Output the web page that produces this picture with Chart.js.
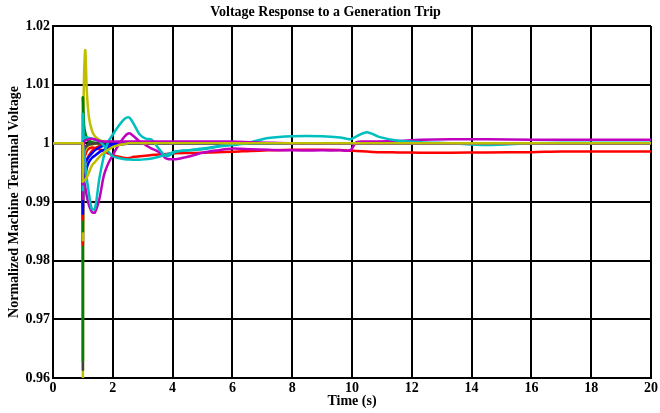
<!DOCTYPE html>
<html><head><meta charset="utf-8">
<script src="https://cdn.jsdelivr.net/npm/chart.js@4"></script>
<style>html,body{margin:0;padding:0;background:#fff}</style>
</head><body>
<canvas id="c" width="660" height="413"></canvas>
<script>
// time samples (s), shared by all series; repeated 1.0 entries are the instant of the trip
const timeS = [0,1.0,1.0,1.0,1.04,1.08,1.13,1.2,1.3,1.4,1.55,1.7,1.85,2.0,2.2,2.4,2.55,2.7,2.9,3.1,3.3,3.55,3.8,4.1,4.5,5.0,5.5,6.0,6.6,7.2,8.0,9.0,9.6,9.95,10.15,10.5,10.9,11.5,12.3,13.3,14.5,16.0,17.0,20.0];
const xTickValues = [0,2,4,6,8,10,12,14,16,18,20];
const xTickLabels = ['0','2','4','6','8','10','12','14','16','18','20'];
const yTickValues = [0.96,0.97,0.98,0.99,1.00,1.01,1.02];
const yTickLabels = ['0.96','0.97','0.98','0.99','1','1.01','1.02'];

// normalized terminal voltage of each machine
const yellowSpike = [1,1,0.955,1.0,1.012,1.0159,1.009,1.0045,1.0022,1.0012,1.0006,1.0003,1.0001,1.0,1,1,1,1,1,1,1,1,1,1,1,1,1,1,1,1,1,1,1,1,1,1,1,1,1,1,1,1,1,1];
const grayA = [1,1,0.9614,0.999,1.0018,1.0012,1.0006,1.0003,1.0001,1.0,1,1,1,1,1,1,1,1,1,1,1,1,1,1,1,1,1,1,1,1,1,1,1,1,1,1,1,1,1,1,1,1,1,1];
const greenA = [1,1,0.963,1.0078,1.003,1.0018,1.001,1.0005,1.0002,1.0001,1.0,1,1,1,1,1,1,1,1,1,1,1,1,1,1,1,1,1,1,1,1,1,1,1,1,1,1,1,1,1,1,1,1,1];
const redA = [1,1,0.9827,0.996,0.9972,0.998,0.9987,0.9991,0.9993,0.9992,0.999,0.9987,0.9983,0.998,0.9977,0.9975,0.9975,0.9977,0.9978,0.9979,0.998,0.9981,0.9982,0.9983,0.99835,0.9984,0.9985,0.99855,0.9987,0.9988,0.9989,0.9989,0.99885,0.99875,0.9987,0.9986,0.9985,0.99845,0.9984,0.9984,0.99845,0.9985,0.9986,0.9986];
const yellowB = [1,1,0.9835,0.9975,0.9982,0.9988,0.9993,0.9996,0.9998,0.9999,1.0,1,1,1,1,1,1,1,1,1,1,1,1,1,1,1,1,1,1,1,1,1,1,1,1,1,1,1,1,1,1,1,1,1];
const greenB = [1,1,0.985,0.9985,0.999,0.9994,0.9997,0.9999,1.0,1,1,1,1,1,1,1,1,1,1,1,1,1,1,1,1,1,1,1,1,1,1,1,1,1,1,1,1,1,1,1,1,1,1,1];
const redB = [1,1,0.987,0.996,0.9962,0.9966,0.9971,0.9979,0.9987,0.9991,0.9995,0.9997,0.9998,0.9999,1.0,1,1,1,1,1,1,1,1,1,1,1,1,1,1,1,1,1,1,1,1,1,1,1,1,1,1,1,1,1];
const grayB = [1,1,0.99,0.998,0.9988,0.9993,0.9996,0.9998,0.9999,1.0,1,1,1,1,1,1,1,1,1,1,1,1,1,1,1,1,1,1,1,1,1,1,1,1,1,1,1,1,1,1,1,1,1,1];
const blueA = [1,1,0.988,0.9935,0.9938,0.9945,0.9958,0.9968,0.9975,0.9979,0.9985,0.9989,0.9993,0.9996,0.9998,0.9999,1.0,1,1,1,1,1,1,1,1,1,1,1,1,1,1,1,1,1,1,1,1,1,1,1,1,1,1,1];
const blueB = [1,1,0.989,0.9965,0.9965,0.9968,0.9972,0.9977,0.9983,0.9988,0.9993,0.9996,0.9998,0.9999,1.0,1,1,1,1,1,1,1,1,1,1,1,1,1,1,1,1,1,1,1,1,1,1,1,1,1,1,1,1,1];
const magentaA = [1,1,0.9905,0.9935,0.9935,0.9925,0.991,0.9895,0.9883,0.9882,0.9905,0.9945,0.9966,0.998,0.9998,1.0012,1.0017,1.0012,1.0003,0.9997,0.9991,0.9985,0.9974,0.9973,0.9977,0.9984,0.9988,0.9991,0.999,0.9989,0.9988,0.9988,0.9988,0.99885,1.0002,1.0003,1.0003,1.0004,1.0006,1.0007,1.0007,1.0006,1.0006,1.0006];
const cyanA = [1,1,0.992,1.005,0.999,0.9965,0.994,0.9915,0.9888,0.9888,0.994,0.9978,1.0003,1.0015,1.003,1.0042,1.0044,1.0033,1.0015,1.0008,1.0006,0.999,0.9978,0.9986,0.9988,0.9991,0.9995,0.9998,1.0002,1.0009,1.0012,1.0012,1.001,1.0007,1.0012,1.0019,1.0011,1.0005,1.0002,1.0,0.9997,1.0,1.0001,1.0001];
const cyanB = [1,1,0.995,0.999,1.0005,1.001,1.001,1.0009,1.0008,1.0006,1.0004,0.9996,0.9986,0.9978,0.9975,0.9973,0.99725,0.9972,0.9972,0.9973,0.9974,0.9977,0.9981,0.9986,0.9988,0.999,0.9994,0.9997,1.0,1,1,1,1,1,1,1,1,1,1,1,1,1,1,1];
const magentaB = [1,1,0.993,0.999,1.0003,1.0005,1.0006,1.0007,1.0008,1.0007,1.0004,1.0003,1.0003,1.0003,1.0003,1.0003,1.0003,1.0003,1.0003,1.0003,1.0003,1.0003,1.0003,1.0003,1.0003,1.0003,1.0003,1.0003,1.0002,1.0001,1,1,1,1,1,1,1,1,1,1,1,1,1,1];
const yellowC = [1,1,0.9935,0.9935,0.9937,0.9938,0.9942,0.995,0.9962,0.9968,0.9977,0.9984,0.9989,0.9994,0.9997,0.9999,1.0,1,1,1,1,1,1,1,1,1,1,1,1,1,1,1,1,1,1,1,1,1,1,1,1,1,1,1];

const C = {b:'#0000FF', g:'#008000', r:'#FF0000', c:'#00BFBF', m:'#BF00BF', y:'#BFBF00', k:'#404040'};

// bottom -> top drawing order
const seriesList = [
  [yellowSpike, C.y], [grayA, C.k], [greenA, C.g], [redA, C.r], [yellowB, C.y],
  [greenB, C.g], [redB, C.r], [grayB, C.k], [blueA, C.b], [blueB, C.b],
  [magentaA, C.m], [cyanA, C.c], [cyanB, C.c], [magentaB, C.m], [yellowC, C.y]
];
const TRIP_END = 3; // index where the instantaneous trip transient ends

const datasets = [];
seriesList.forEach(([vals, col], i) => {
  const pts = vals.map((v, j) => ({x: timeS[j], y: v}));
  const common = {
    borderColor: col, borderWidth: 2.5, pointRadius: 0,
    borderJoinStyle: 'round', borderCapStyle: 'round', fill: false,
    order: seriesList.length - i
  };
  // pre-trip level and vertical jump: straight segments
  datasets.push(Object.assign({data: pts.slice(0, TRIP_END + 1), tension: 0}, common));
  // post-trip response: smooth curve
  datasets.push(Object.assign({data: pts.slice(TRIP_END), tension: 0.3}, common));
});

const serif = 'Liberation Serif';
new Chart(document.getElementById('c'), {
  type: 'line',
  data: {datasets},
  options: {
    responsive: false,
    animation: false,
    layout: {padding: {left: 0, right: 9, top: 0, bottom: 0}},
    plugins: {
      legend: {display: false},
      tooltip: {enabled: false},
      title: {
        display: true,
        text: 'Voltage Response to a Generation Trip',
        color: '#000',
        font: {family: serif, size: 14, weight: 'bold'},
        padding: {top: 4, bottom: 5.2}
      }
    },
    scales: {
      x: {
        type: 'linear', min: 0, max: 20,
        afterBuildTicks: s => { s.ticks = xTickValues.map(v => ({value: v})); },
        afterFit: s => { s.height = 35; },
        grid: {color: '#000', lineWidth: 2, drawTicks: false},
        border: {color: '#000', width: 2},
        ticks: {
          color: '#000', padding: 2, maxRotation: 0, autoSkip: false,
          font: {family: serif, size: 14, weight: 'bold'},
          callback: (v, i) => xTickLabels[i]
        },
        title: {display: true, text: 'Time (s)', color: '#000',
          font: {family: serif, size: 14, weight: 'bold'}, padding: {top: 0, bottom: 3}}
      },
      y: {
        type: 'linear', min: 0.96, max: 1.02,
        afterBuildTicks: s => { s.ticks = yTickValues.map(v => ({value: v})); },
        afterFit: s => { s.width = 53; },
        grid: {color: '#000', lineWidth: 2, drawTicks: false},
        border: {color: '#000', width: 2},
        ticks: {
          color: '#000', padding: 3, autoSkip: false,
          font: {family: serif, size: 14, weight: 'bold'},
          callback: (v, i) => yTickLabels[i]
        },
        title: {display: true, text: 'Normalized Machine Terminal Voltage', color: '#000',
          font: {family: serif, size: 14, weight: 'bold'}, padding: {top: 6, bottom: 0}}
      }
    }
  }
});
</script>
</body></html>
